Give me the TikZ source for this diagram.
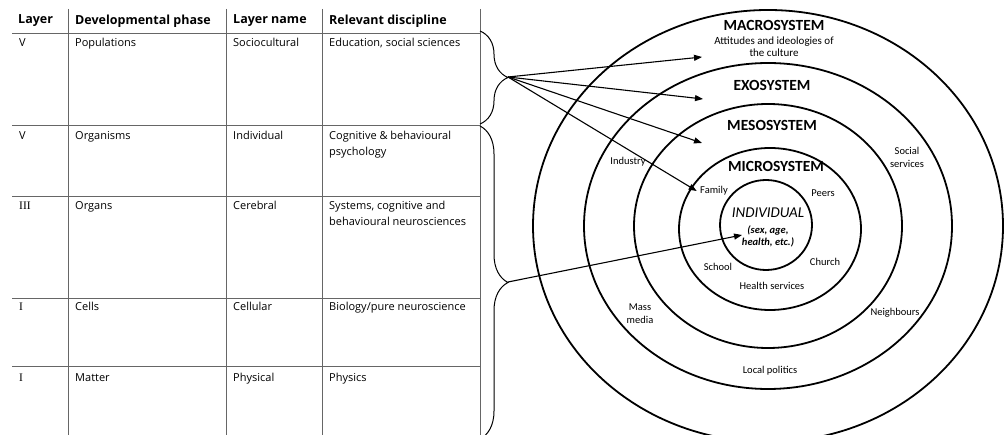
\documentclass[tikz,border=0pt]{standalone}
\usepackage{fontspec}
\setmainfont{Carlito}
\newfontfamily\tabfont{Open Sans}
\newfontfamily\numfont{Liberation Serif}
\usetikzlibrary{decorations.pathreplacing,arrows.meta}

\begin{document}
\begin{tikzpicture}[x=1pt, y=-1pt,
  grid/.style={draw=black!60, line width=0.9pt},
  head/.style={anchor=west, inner sep=0pt, font=\tabfont\bfseries\fontsize{12.5}{14}\selectfont},
  cell/.style={anchor=north west, inner sep=0pt, align=left, font=\tabfont\fontsize{11}{16}\selectfont},
  numeral/.style={anchor=north west, inner sep=0pt, font=\numfont\fontsize{11.5}{13}\selectfont},
  ring/.style={draw, line width=1.8pt},
  sysname/.style={font=\bfseries\fontsize{15.5}{17}\selectfont},
  place/.style={align=center, font=\fontsize{10.5}{13}\selectfont},
  pointer/.style={-{Triangle[length=8pt,width=6pt]}, line width=1.1pt},
  curly/.style={decorate, decoration={brace, amplitude=28pt}, line width=1pt}
]
\useasboundingbox[fill=white] (0,0) rectangle (1008,435);
\clip (0,0) rectangle (1008,435);

% table
\foreach \ry in {33,125,196,298,366}
  \draw[grid] (12,\ry) -- (480,\ry);
\foreach \cx in {68,226,322,480}
  \draw[grid] (\cx,9) -- (\cx,435);

\node[head] (hLayer) at (18,21) {Layer};
\node[head] (hPhase) at (75,21) {Developmental phase};
\node[head] (hName) at (233,21) {Layer name};
\node[head] (hDisc) at (329,21) {Relevant discipline};

\node[cell] (nPop) at (19,38) {V};
\node[cell] (pPop) at (75,38) {Populations};
\node[cell] (lPop) at (233,38) {Sociocultural};
\node[cell] (dPop) at (329,38) {Education, social sciences};

\node[cell] (nOrg) at (19,131) {V};
\node[cell] (pOrg) at (75,131) {Organisms};
\node[cell] (lOrg) at (233,131) {Individual};
\node[cell] (dOrg) at (329,131) {Cognitive \& behavioural\\psychology};

\node[numeral] (nOrgan) at (19,202) {III};
\node[cell] (pOrgan) at (75,201) {Organs};
\node[cell] (lOrgan) at (233,201) {Cerebral};
\node[cell] (dOrgan) at (329,201) {Systems, cognitive and\\behavioural neurosciences};

\node[numeral] (nCell) at (19,303) {I};
\node[cell] (pCell) at (75,302) {Cells};
\node[cell] (lCell) at (233,302) {Cellular};
\node[cell] (dCell) at (329,302) {Biology/pure neuroscience};

\node[numeral] (nMat) at (19,374) {I};
\node[cell] (pMat) at (75,373) {Matter};
\node[cell] (lMat) at (233,373) {Physical};
\node[cell] (dMat) at (329,373) {Physics};

% braces
\draw[curly] (480,31) -- (480,124);
\draw[curly] (480,126) -- (480,439);
\coordinate (tipUp) at (508,77);
\coordinate (tipDown) at (508,282);

% rings
\coordinate (hub) at (768,226);
\draw[ring] (hub) ellipse [x radius=235pt, y radius=216pt];
\draw[ring] (hub) ellipse [x radius=184pt, y radius=163pt];
\draw[ring] (hub) ellipse [x radius=134pt, y radius=122pt];
\draw[ring] (770,229) ellipse [x radius=91pt, y radius=81pt];
\draw[ring] (766,225) ellipse [x radius=46pt, y radius=45pt];

\node[sysname] (macro) at (774,25) {MACROSYSTEM};
\node[align=center, font=\fontsize{11}{12}\selectfont] (culture) at (774,47) {Attitudes and ideologies of\\the culture};
\node[sysname] (exo) at (772,85) {EXOSYSTEM};
\node[sysname] (meso) at (772,125) {MESOSYSTEM};
\node[sysname] (micro) at (776,166) {MICROSYSTEM};
\node[font=\itshape\fontsize{15}{17}\selectfont] (indiv) at (768,213) {INDIVIDUAL};
\node[align=center, font=\bfseries\itshape\fontsize{10.5}{12}\selectfont] (traits) at (768,236) {(sex, age,\\health, etc.)};

\node[place] (family) at (714,191) {Family};
\node[place] (peers) at (823,193) {Peers};
\node[place] (school) at (718,267) {School};
\node[place] (church) at (825,262) {Church};
\node[place] (health) at (772,286) {Health services};
\node[place] (industry) at (628,162) {Industry};
\node[place] (social) at (907,157) {Social\\services};
\node[place] (massmedia) at (640,314) {Mass\\media};
\node[place] (neighbours) at (895,313) {Neighbours};
\node[place] (politics) at (770,371) {Local politics};

\coordinate (macroIn) at (702,57);
\coordinate (exoIn) at (703,99);
\coordinate (mesoIn) at (702,143);
\coordinate (indivIn) at (742,235);

\draw[pointer] (tipUp) -- (macroIn);
\draw[pointer] (tipUp) -- (exoIn);
\draw[pointer] (tipUp) -- (mesoIn);
\draw[pointer] (tipUp) -- (family.west);
\draw[pointer] (tipDown) -- (indivIn);
\end{tikzpicture}
\end{document}
